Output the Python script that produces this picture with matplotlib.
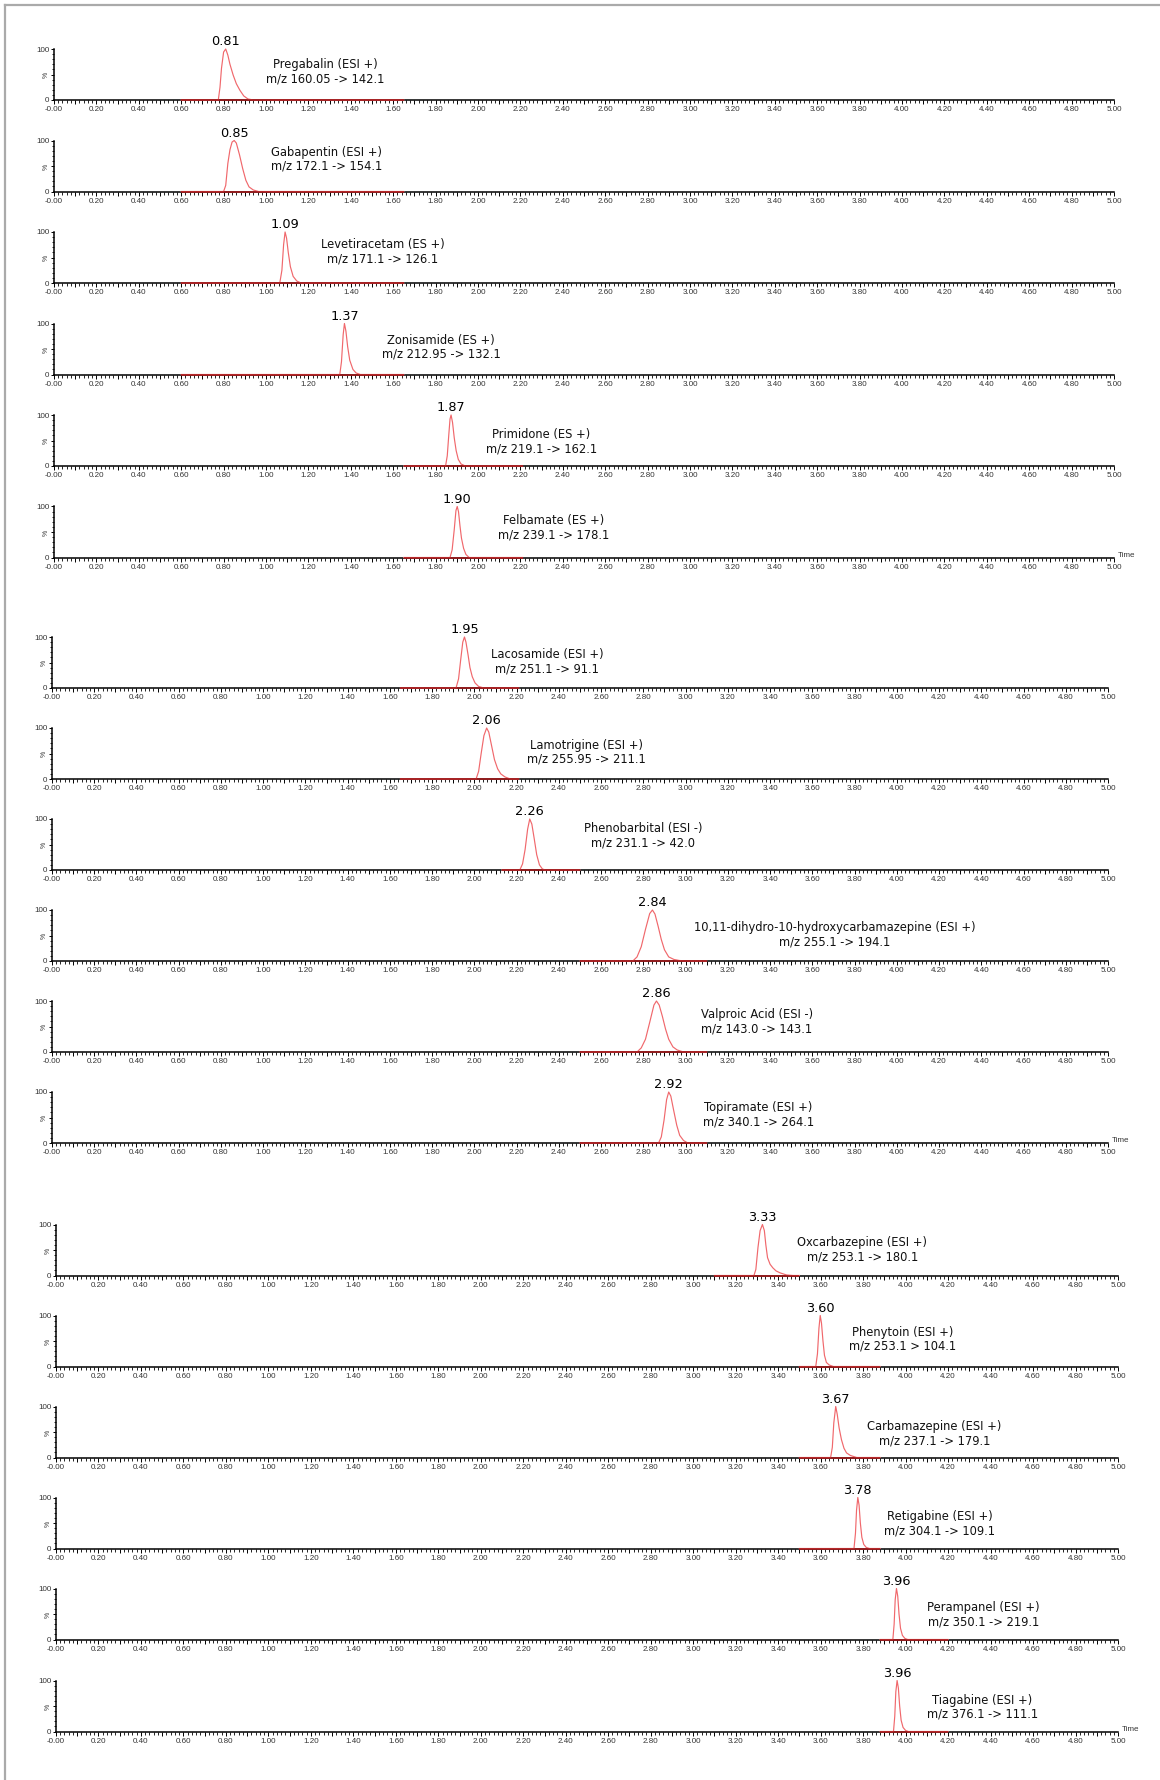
import matplotlib
matplotlib.use("Agg")
import matplotlib.pyplot as plt
from matplotlib.ticker import FixedLocator, MultipleLocator, FuncFormatter
from matplotlib.lines import Line2D

# ---------------- data ----------------
label_names = [
    "Pregabalin (ESI +)", "Gabapentin (ESI +)", "Levetiracetam (ES +)",
    "Zonisamide (ES +)", "Primidone (ES +)", "Felbamate (ES +)",
    "Lacosamide (ESI +)", "Lamotrigine (ESI +)", "Phenobarbital (ESI -)",
    "10,11-dihydro-10-hydroxycarbamazepine (ESI +)", "Valproic Acid (ESI -)",
    "Topiramate (ESI +)", "Oxcarbazepine (ESI +)", "Phenytoin (ESI +)",
    "Carbamazepine (ESI +)", "Retigabine (ESI +)", "Perampanel (ESI +)",
    "Tiagabine (ESI +)",
]
label_mz = [
    "m/z 160.05 -> 142.1", "m/z 172.1 -> 154.1", "m/z 171.1 -> 126.1",
    "m/z 212.95 -> 132.1", "m/z 219.1 -> 162.1", "m/z 239.1 -> 178.1",
    "m/z 251.1 -> 91.1", "m/z 255.95 -> 211.1", "m/z 231.1 -> 42.0",
    "m/z 255.1 -> 194.1", "m/z 143.0 -> 143.1", "m/z 340.1 -> 264.1",
    "m/z 253.1 -> 180.1", "m/z 253.1 > 104.1", "m/z 237.1 -> 179.1",
    "m/z 304.1 -> 109.1", "m/z 350.1 -> 219.1", "m/z 376.1 -> 111.1",
]
rt_labels = ["0.81", "0.85", "1.09", "1.37", "1.87", "1.90",
             "1.95", "2.06", "2.26", "2.84", "2.86", "2.92",
             "3.33", "3.60", "3.67", "3.78", "3.96", "3.96"]
window_start = [0.60, 0.60, 0.60, 0.60, 1.65, 1.65,
                1.65, 1.65, 2.13, 2.50, 2.50, 2.50,
                3.10, 3.50, 3.50, 3.50, 3.88, 3.88]
window_end = [1.65, 1.65, 1.65, 1.65, 2.21, 2.21,
              2.21, 2.21, 2.50, 3.10, 3.10, 3.10,
              3.50, 3.88, 3.88, 3.88, 4.20, 4.20]

# peak traces (time, % intensity)
t_pregabalin = [0.775, 0.783, 0.79, 0.80, 0.81, 0.82, 0.83, 0.845, 0.86, 0.877, 0.895, 0.915, 0.94]
i_pregabalin = [0, 25, 62, 94, 100, 88, 70, 49, 32, 19, 8, 2, 0]
t_gabapentin = [0.80, 0.81, 0.82, 0.83, 0.84, 0.85, 0.86, 0.875, 0.89, 0.905, 0.92, 0.94, 0.965]
i_gabapentin = [0, 12, 55, 82, 97, 100, 95, 72, 45, 22, 9, 3, 0]
t_levetiracetam = [1.065, 1.075, 1.083, 1.09, 1.097, 1.105, 1.115, 1.128, 1.145, 1.165]
i_levetiracetam = [0, 25, 75, 100, 88, 60, 32, 13, 4, 0]
t_zonisamide = [1.348, 1.356, 1.364, 1.37, 1.377, 1.385, 1.395, 1.41, 1.425, 1.445]
i_zonisamide = [0, 25, 78, 100, 85, 55, 28, 10, 3, 0]
t_primidone = [1.847, 1.855, 1.862, 1.868, 1.873, 1.88, 1.888, 1.897, 1.907, 1.92, 1.94]
i_primidone = [0, 20, 60, 92, 100, 85, 55, 30, 13, 4, 0]
t_felbamate = [1.868, 1.878, 1.888, 1.896, 1.902, 1.908, 1.915, 1.922, 1.932, 1.943, 1.958]
i_felbamate = [0, 15, 55, 92, 100, 90, 62, 38, 18, 6, 0]
t_lacosamide = [1.913, 1.925, 1.935, 1.945, 1.953, 1.96, 1.97, 1.979, 1.99, 2.003, 2.02, 2.045]
i_lacosamide = [0, 18, 55, 90, 100, 90, 65, 40, 22, 10, 3, 0]
t_lamotrigine = [2.008, 2.02, 2.032, 2.045, 2.058, 2.068, 2.08, 2.095, 2.11, 2.125, 2.145, 2.17]
i_lamotrigine = [0, 15, 50, 85, 100, 92, 68, 38, 20, 10, 4, 0]
t_phenobarbital = [2.215, 2.228, 2.24, 2.252, 2.262, 2.272, 2.283, 2.295, 2.308, 2.322, 2.335]
i_phenobarbital = [0, 12, 40, 80, 100, 90, 62, 30, 10, 2, 0]
t_mhd = [2.75, 2.77, 2.79, 2.81, 2.83, 2.843, 2.855, 2.87, 2.885, 2.90, 2.92, 2.945, 2.97, 3.00]
i_mhd = [0, 8, 28, 62, 93, 100, 92, 68, 42, 22, 8, 3, 1, 0]
t_valproic = [2.77, 2.79, 2.81, 2.83, 2.85, 2.862, 2.875, 2.89, 2.905, 2.92, 2.94, 2.96, 2.99]
i_valproic = [0, 8, 25, 58, 92, 100, 92, 70, 45, 25, 10, 4, 0]
t_topiramate = [2.872, 2.885, 2.898, 2.91, 2.92, 2.93, 2.943, 2.958, 2.972, 2.99, 3.01]
i_topiramate = [0, 12, 45, 85, 100, 92, 65, 35, 15, 5, 0]
t_oxcarbazepine = [3.286, 3.295, 3.305, 3.315, 3.326, 3.335, 3.342, 3.35, 3.362, 3.375, 3.39, 3.41, 3.44, 3.47]
i_oxcarbazepine = [0, 12, 55, 88, 100, 88, 60, 35, 22, 15, 9, 5, 1, 0]
t_phenytoin = [3.577, 3.585, 3.592, 3.598, 3.604, 3.611, 3.618, 3.627, 3.64, 3.66]
i_phenytoin = [0, 25, 75, 100, 85, 50, 22, 8, 3, 0]
t_carbamazepine = [3.647, 3.655, 3.662, 3.671, 3.678, 3.687, 3.698, 3.71, 3.722, 3.74, 3.77]
i_carbamazepine = [0, 20, 68, 100, 85, 58, 35, 18, 9, 4, 0]
t_retigabine = [3.757, 3.764, 3.769, 3.775, 3.781, 3.787, 3.794, 3.803, 3.815, 3.83]
i_retigabine = [0, 30, 75, 100, 85, 50, 22, 8, 2, 0]
t_perampanel = [3.94, 3.946, 3.951, 3.957, 3.963, 3.969, 3.976, 3.985, 3.997, 4.01]
i_perampanel = [0, 30, 78, 100, 85, 50, 22, 8, 2, 0]
t_tiagabine = [3.943, 3.949, 3.954, 3.96, 3.966, 3.972, 3.979, 3.988, 4.0, 4.013]
i_tiagabine = [0, 30, 78, 100, 85, 50, 22, 8, 2, 0]

peak_t = [t_pregabalin, t_gabapentin, t_levetiracetam, t_zonisamide, t_primidone,
          t_felbamate, t_lacosamide, t_lamotrigine, t_phenobarbital, t_mhd,
          t_valproic, t_topiramate, t_oxcarbazepine, t_phenytoin, t_carbamazepine,
          t_retigabine, t_perampanel, t_tiagabine]
peak_i = [i_pregabalin, i_gabapentin, i_levetiracetam, i_zonisamide, i_primidone,
          i_felbamate, i_lacosamide, i_lamotrigine, i_phenobarbital, i_mhd,
          i_valproic, i_topiramate, i_oxcarbazepine, i_phenytoin, i_carbamazepine,
          i_retigabine, i_perampanel, i_tiagabine]

# ---------------- layout (pixels in a 1160x1780 figure) ----------------
W, H = 1160, 1780
group_x = [(54, 1114), (52, 1108), (56, 1118)]
baselines = [100, 191.5, 283, 374.5, 466, 557.5,
             688, 779, 870, 961, 1052, 1143,
             1275.5, 1366.5, 1457.5, 1548.5, 1639.5, 1731.5]
panel_h = 51
text_x = [1.28, 1.285, 1.55, 1.827, 2.30, 2.357, 2.345, 2.532, 2.80, 3.705,
          3.338, 3.346, 3.797, 3.985, 4.135, 4.16, 4.366, 4.362]
text_y = [55.5, 63.5, 61.5, 53.5, 47.5, 58, 51, 52.5, 67.5, 51, 60, 55.5,
          50, 53.5, 46.5, 49, 49, 47.5]

peak_color = "#f0686c"
base_color = "#a8181a"
tick_font = "Liberation Sans"
text_font = "DejaVu Sans"

fig = plt.figure(figsize=(W / 100, H / 100), dpi=100)
fig.patch.set_facecolor("white")

# grey frame (top and left)
fig.add_artist(Line2D([5 / W, 1], [1 - 5 / H, 1 - 5 / H], transform=fig.transFigure,
                      color="#aaaaaa", lw=1.6))
fig.add_artist(Line2D([5 / W, 5 / W], [0, 1 - 5 / H], transform=fig.transFigure,
                      color="#aaaaaa", lw=1.6))

major_x = [round(0.1 * k, 2) for k in range(51)]


def xfmt(v, pos):
    k = int(round(v * 10))
    if k % 2:
        return ""
    return "-0.00" if k == 0 else f"{v:.2f}"


for n in range(18):
    g = n // 6
    x0, x1 = group_x[g]
    b = baselines[n]
    ax = fig.add_axes([x0 / W, 1 - b / H, (x1 - x0) / W, panel_h / H])
    ax.set_xlim(0, 5)
    ax.set_ylim(0, 100)
    for s in ("top", "right"):
        ax.spines[s].set_visible(False)
    for s in ("left", "bottom"):
        ax.spines[s].set_linewidth(1.1)
        ax.spines[s].set_color("black")
    ax.patch.set_alpha(0)

    # x ticks
    ax.xaxis.set_major_locator(FixedLocator(major_x))
    ax.xaxis.set_minor_locator(MultipleLocator(0.02))
    ax.xaxis.set_major_formatter(FuncFormatter(xfmt))
    ax.tick_params(axis="x", which="major", direction="out", length=3.2, width=0.7,
                   pad=1.2, labelsize=5.8, labelcolor="#333333")
    ax.tick_params(axis="x", which="minor", direction="out", length=1.8, width=0.6)
    # y ticks
    ax.set_yticks([0, 50, 100])
    ax.set_yticklabels(["0", "%", "100"])
    ax.yaxis.set_minor_locator(MultipleLocator(10))
    ax.tick_params(axis="y", which="major", direction="out", length=2.5, width=0.7,
                   pad=0.8, labelsize=5.8, labelcolor="#333333")
    ax.tick_params(axis="y", which="minor", direction="out", length=1.5, width=0.6)
    for lab in ax.get_xticklabels() + ax.get_yticklabels():
        lab.set_fontfamily(tick_font)
    ax.get_yticklabels()[1].set_rotation(90)
    ax.get_yticklabels()[1].set_fontsize(5)

    # chromatogram trace
    ts = [window_start[n]] + peak_t[n] + [window_end[n]]
    ys = [0] + peak_i[n] + [0]
    ax.plot(ts, ys, color=peak_color, lw=0.85, clip_on=False, zorder=4)
    ax.plot([window_start[n], window_end[n]], [0, 0], color=base_color, lw=1.15,
            clip_on=False, zorder=5, solid_capstyle="butt")

    # apex label
    apex = peak_t[n][peak_i[n].index(max(peak_i[n]))]
    ax.text(apex, 101, rt_labels[n], ha="center", va="bottom", fontsize=9.3,
            family=text_font, color="black", clip_on=False)
    # compound label
    ax.text(text_x[n], text_y[n], label_names[n] + "\n" + label_mz[n], ha="center",
            va="center", multialignment="center", fontsize=8.3, family=text_font,
            color="#111111", linespacing=1.12, clip_on=False)

    if n % 6 == 5:
        ax.text(1.004, 0.04, "Time", transform=ax.transAxes, ha="left", va="center",
                fontsize=5.8, family=tick_font, color="#333333")

fig.savefig("out.png", dpi=100, facecolor="white")
